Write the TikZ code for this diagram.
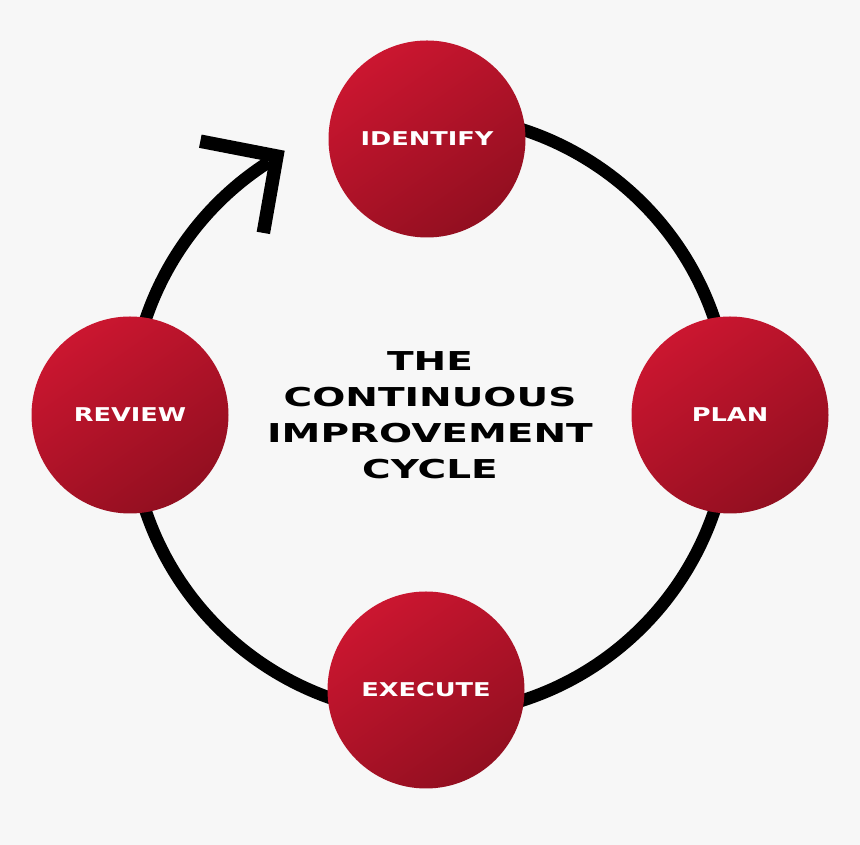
\documentclass[tikz,border=0pt]{standalone}
\usepackage{fontspec}
\usepackage{tikz}
\newfontfamily\stagefont[FakeStretch=1.35]{DejaVu Sans}
\newfontfamily\headfont[FakeStretch=1.5]{DejaVu Sans}
\definecolor{cyclered}{HTML}{CB1630}
\definecolor{cycledark}{HTML}{920F20}
\definecolor{paper}{HTML}{F7F7F7}

\begin{document}
\begin{tikzpicture}[x=1pt,y=1pt,
  stage/.style={circle,minimum size=197pt,inner sep=0pt,
    top color=cyclered,middle color=cyclered,bottom color=cycledark,shading angle=35,
    text=white,font=\stagefont\bfseries\fontsize{19}{19}\selectfont},
  ring/.style={line width=12.5pt,black}]
  % Background
  \fill[paper] (0,0) rectangle (860,845);
  \useasboundingbox (0,0) rectangle (860,845);
  % The ring and its arrow
  \coordinate (hub) at (430,430);
  \path (hub) ++(120.6:300.8) coordinate (tip);
  \draw[ring] (hub) ++(95:300) arc[start angle=95,end angle=-237.5,radius=300];
  \draw[ring,line width=13.5pt,line join=miter] (tip) ++(169:78) -- (tip) -- ++(260:78);
  % The four stages
  \node[stage] (identify) at (427,706) {IDENTIFY};
  \node[stage] (plan) at (730,430) {PLAN};
  \node[stage] (execute) at (426,155) {EXECUTE};
  \node[stage] (review) at (130,430) {REVIEW};
  % Title
  \node[align=center,font=\headfont\bfseries\fontsize{26}{36}\selectfont] (title) at (hub)
    {THE\\CONTINUOUS\\IMPROVEMENT\\CYCLE};
\end{tikzpicture}
\end{document}
